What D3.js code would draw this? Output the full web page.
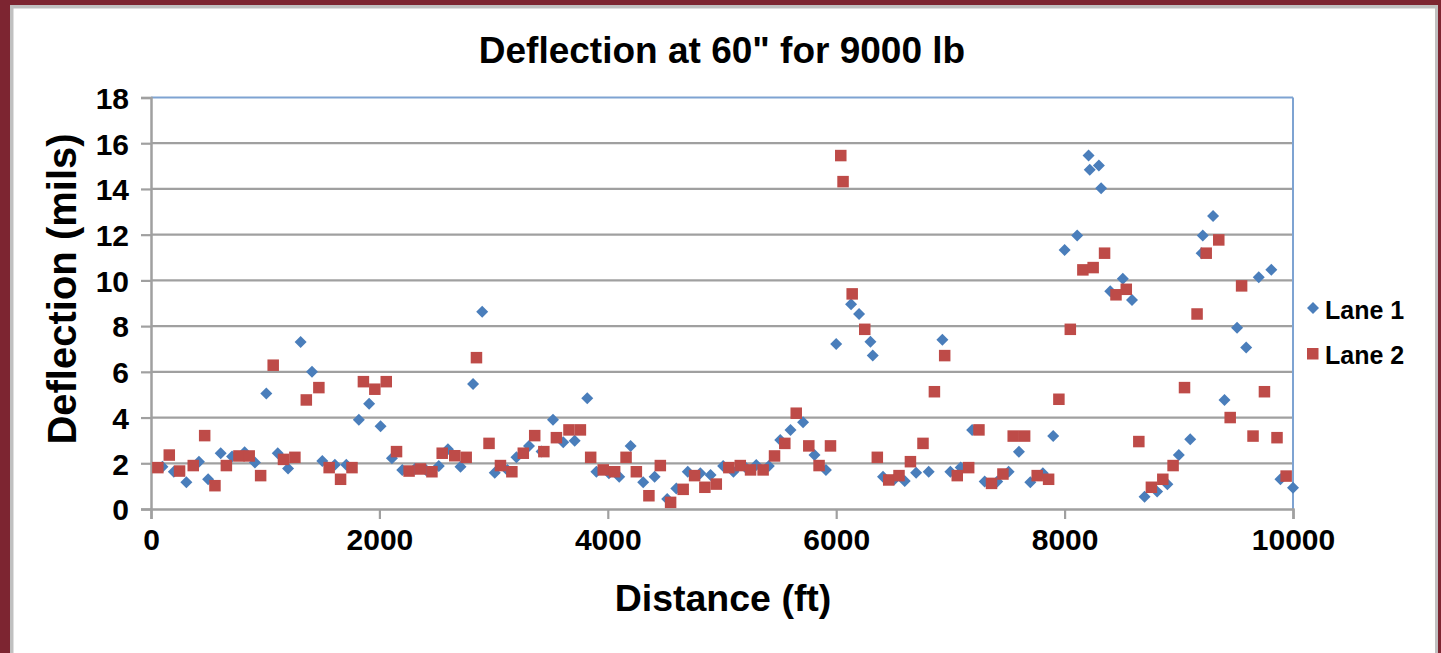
<!DOCTYPE html>
<html>
<head>
<meta charset="utf-8">
<script src="https://cdn.jsdelivr.net/npm/d3@7"></script>
<style>
  html, body { margin: 0; padding: 0; background: #7d2531; }
  svg { display: block; }
  text { font-family: "Liberation Sans", Arial, sans-serif; font-weight: bold; fill: #000; }
</style>
</head>
<body>
<svg id="chart" width="1441" height="653"></svg>
<script>
// ---- data ----
const title = "Deflection at 60\" for 9000 lb";
const xTitle = "Distance (ft)";
const yTitle = "Deflection (mils)";
const seriesNames = ["Lane 1", "Lane 2"];
const xTicks = [0, 2000, 4000, 6000, 8000, 10000];
const yTicks = [0, 2, 4, 6, 8, 10, 12, 14, 16, 18];

const lane1X = [100, 200, 310, 420, 500, 610, 710, 820, 910, 1010, 1110, 1200, 1310, 1410, 1500, 1610, 1710, 1820, 1910, 2010,
  2110, 2200, 2310, 2410, 2520, 2600, 2710, 2820, 2900, 3010, 3120, 3200, 3310, 3420, 3520, 3610, 3710, 3820, 3900, 4010,
  4100, 4200, 4310, 4410, 4520, 4600, 4700, 4810, 4900, 5010, 5100, 5200, 5300, 5410, 5510, 5600, 5710, 5810, 5910, 6000,
  6130, 6200, 6300, 6320, 6410, 6510, 6600, 6700, 6810, 6930, 7000, 7090, 7190, 7300, 7410, 7510, 7600, 7700, 7810, 7900,
  8000, 8110, 8210, 8220, 8300, 8320, 8400, 8510, 8590, 8700, 8810, 8900, 9000, 9100, 9200, 9210, 9300, 9400, 9510, 9590,
  9700, 9810, 9890, 10000];
const lane1Y = [1.85, 1.63, 1.17, 2.07, 1.3, 2.44, 2.3, 2.48, 2.03, 5.05, 2.44, 1.77, 7.3, 6.0, 2.1, 1.94, 1.94, 3.9, 4.6, 3.62,
  2.22, 1.71, 1.75, 1.7, 1.88, 2.61, 1.85, 5.47, 8.63, 1.59, 1.71, 2.26, 2.76, 2.51, 3.9, 2.92, 2.99, 4.84, 1.63, 1.56,
  1.41, 2.76, 1.17, 1.41, 0.44, 0.9, 1.63, 1.56, 1.49, 1.88, 1.63, 1.85, 1.93, 1.88, 3.02, 3.46, 3.79, 2.36, 1.71, 7.22,
  8.96, 8.53, 7.32, 6.71, 1.41, 1.3, 1.22, 1.59, 1.63, 7.4, 1.63, 1.81, 3.46, 1.2, 1.2, 1.63, 2.5, 1.17, 1.56, 3.19,
  11.33, 11.96, 15.46, 14.84, 15.03, 14.03, 9.52, 10.07, 9.14, 0.54, 0.76, 1.08, 2.36, 3.05, 11.19, 11.96, 12.82, 4.77, 7.93, 7.06,
  10.14, 10.46, 1.3, 0.93];

const lane2X = [60, 160, 250, 370, 470, 560, 660, 770, 860, 960, 1070, 1160, 1260, 1360, 1470, 1560, 1660, 1760, 1860, 1960,
  2060, 2150, 2260, 2360, 2460, 2550, 2660, 2760, 2850, 2960, 3060, 3160, 3260, 3360, 3440, 3550, 3660, 3760, 3850, 3960,
  4060, 4160, 4250, 4360, 4460, 4550, 4660, 4760, 4850, 4950, 5060, 5160, 5250, 5360, 5460, 5550, 5650, 5760, 5850, 5950,
  6040, 6060, 6140, 6250, 6360, 6460, 6550, 6650, 6760, 6860, 6950, 7060, 7160, 7250, 7360, 7460, 7550, 7650, 7760, 7860,
  7950, 8050, 8160, 8250, 8350, 8450, 8540, 8650, 8760, 8860, 8950, 9050, 9160, 9240, 9350, 9450, 9550, 9650, 9750, 9860,
  9940];
const lane2Y = [1.81, 2.36, 1.66, 1.9, 3.21, 1.02, 1.9, 2.32, 2.32, 1.46, 6.29, 2.17, 2.26, 4.77, 5.31, 1.81, 1.3, 1.81, 5.57, 5.24,
  5.57, 2.51, 1.66, 1.75, 1.63, 2.44, 2.33, 2.26, 6.62, 2.87, 1.9, 1.63, 2.44, 3.21, 2.51, 3.12, 3.46, 3.46, 2.26, 1.71,
  1.63, 2.26, 1.63, 0.58, 1.9, 0.29, 0.86, 1.46, 0.95, 1.09, 1.81, 1.9, 1.71, 1.71, 2.32, 2.87, 4.19, 2.76, 1.9, 2.76,
  15.46, 14.32, 9.41, 7.86, 2.26, 1.27, 1.46, 2.07, 2.87, 5.13, 6.71, 1.46, 1.81, 3.46, 1.12, 1.53, 3.19, 3.19, 1.46, 1.3,
  4.8, 7.86, 10.46, 10.56, 11.19, 9.37, 9.61, 2.95, 0.95, 1.3, 1.9, 5.31, 8.53, 11.19, 11.77, 4.0, 9.76, 3.19, 5.13, 3.12,
  1.44];

// ---- layout ----
const svg = d3.select("#chart");
const W = 1441, H = 653;
const plot = { left: 151, right: 1293, top: 97.5, bottom: 509 };
const colors = ["#4a7ebb", "#be4b48"];

// frame
svg.append("rect").attr("x", 0).attr("y", 0).attr("width", W).attr("height", H).attr("fill", "#7d2531");
svg.append("rect").attr("x", 10).attr("y", 5).attr("width", 1428).attr("height", H).attr("fill", "#c0c0c0");
svg.append("rect").attr("x", 13.5).attr("y", 8.5).attr("width", 1421.5).attr("height", H).attr("fill", "#ffffff");

const x = d3.scaleLinear().domain([0, 10000]).range([plot.left, plot.right]);
const y = d3.scaleLinear().domain([0, 18]).range([plot.bottom, plot.top]);

// gridlines
svg.append("g").selectAll("line").data(yTicks.filter(d => d > 0 && d < 18)).join("line")
  .attr("x1", plot.left).attr("x2", plot.right)
  .attr("y1", d => y(d)).attr("y2", d => y(d))
  .attr("stroke", "#a0a0a0").attr("stroke-width", 2.2);

// plot border (top/right blue)
svg.append("line").attr("x1", plot.left).attr("x2", plot.right).attr("y1", plot.top).attr("y2", plot.top)
  .attr("stroke", "#7ea3d2").attr("stroke-width", 2);
svg.append("line").attr("x1", plot.right).attr("x2", plot.right).attr("y1", plot.top).attr("y2", plot.bottom)
  .attr("stroke", "#7ea3d2").attr("stroke-width", 2);

// axes
const yAxis = d3.axisLeft(y).tickValues(yTicks).tickSize(10).tickPadding(12).tickFormat(d3.format("d"));
const gy = svg.append("g").attr("transform", `translate(${plot.left},0)`).call(yAxis);
gy.select(".domain").attr("stroke", "#a0a0a0").attr("stroke-width", 2.5);
gy.selectAll(".tick line").attr("stroke", "#a0a0a0").attr("stroke-width", 2.2);
gy.selectAll(".tick text").style("font-size", "30px").attr("fill", "#000").attr("dy", "0.36em");

const xAxis = d3.axisBottom(x).tickValues(xTicks).tickSize(10).tickPadding(10).tickFormat(d3.format("d"));
const gx = svg.append("g").attr("transform", `translate(0,${plot.bottom})`).call(xAxis);
gx.select(".domain").attr("stroke", "#a0a0a0").attr("stroke-width", 2.5);
gx.selectAll(".tick line").attr("stroke", "#a0a0a0").attr("stroke-width", 2.2);
gx.selectAll(".tick text").style("font-size", "30px").attr("fill", "#000");

// series
const lane1 = lane1X.map((d, i) => ({ x: d, y: lane1Y[i] }));
const lane2 = lane2X.map((d, i) => ({ x: d, y: lane2Y[i] }));

const diamond = d3.symbol().type(d3.symbolSquare).size(72);
svg.append("g").selectAll("path").data(lane1).join("path")
  .attr("d", diamond)
  .attr("transform", d => `translate(${x(d.x)},${y(d.y)}) rotate(45)`)
  .attr("fill", colors[0]);

const sq = 11.5;
svg.append("g").selectAll("rect").data(lane2).join("rect")
  .attr("x", d => x(d.x) - sq / 2).attr("y", d => y(d.y) - sq / 2)
  .attr("width", sq).attr("height", sq)
  .attr("fill", colors[1]);

// titles
svg.append("text").attr("x", 722).attr("y", 63).attr("text-anchor", "middle")
  .style("font-size", "37px").text(title);
svg.append("text").attr("x", 723).attr("y", 611).attr("text-anchor", "middle")
  .style("font-size", "37.5px").text(xTitle);
svg.append("text").attr("transform", `translate(76,289) rotate(-90)`).attr("text-anchor", "middle")
  .style("font-size", "40px").text(yTitle);

// legend
const lg = svg.append("g");
lg.append("path").attr("d", diamond).attr("transform", "translate(1313,308) rotate(45)").attr("fill", colors[0]);
lg.append("rect").attr("x", 1307).attr("y", 348).attr("width", sq).attr("height", sq).attr("fill", colors[1]);
lg.append("text").attr("x", 1325).attr("y", 319).style("font-size", "25px").text(seriesNames[0]);
lg.append("text").attr("x", 1325).attr("y", 364).style("font-size", "25px").text(seriesNames[1]);
</script>
</body>
</html>
